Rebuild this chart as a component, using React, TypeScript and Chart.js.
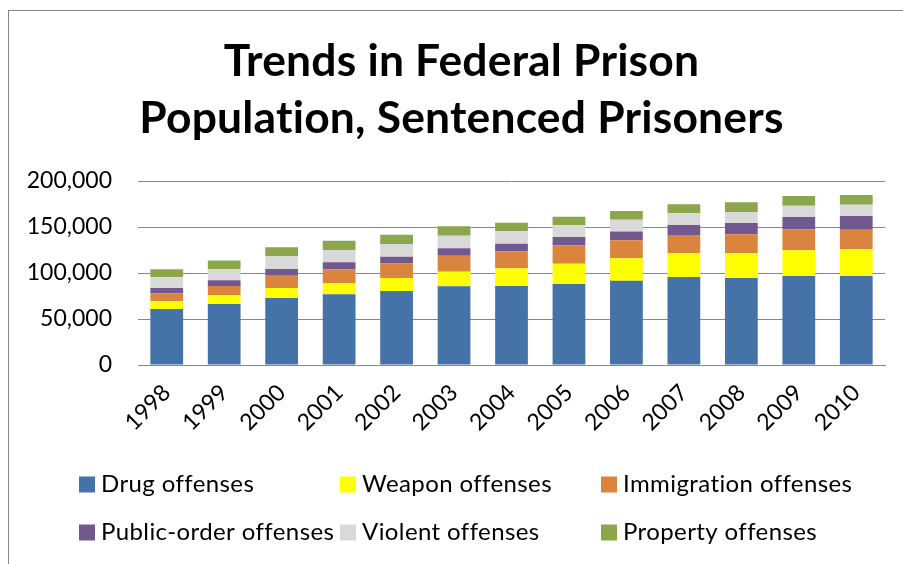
import React, { useEffect, useRef } from 'react';
import { Chart, registerables } from 'chart.js';

Chart.register(...registerables);

const categories = ['1998', '1999', '2000', '2001', '2002', '2003', '2004', '2005', '2006', '2007', '2008', '2009', '2010'];
const drugOffenses = [60900, 66300, 72800, 76800, 80400, 85500, 85900, 88000, 91700, 95700, 94600, 96700, 96700];
const weaponOffenses = [8700, 9400, 10900, 12000, 14100, 15900, 19200, 22100, 24300, 26100, 27200, 27900, 29000];
const immigrationOffenses = [8000, 10200, 13400, 15200, 15900, 17400, 18500, 19900, 19600, 19600, 20300, 22800, 21400];
const publicOrderOffenses = [6200, 6200, 7200, 7600, 7300, 8000, 8300, 9100, 9400, 10900, 12300, 13400, 14900];
const violentOffenses = [11600, 12300, 13800, 13400, 13800, 13800, 13400, 13000, 13000, 12700, 12000, 12300, 12300];
const propertyOffenses = [8700, 9100, 9800, 10100, 10100, 10200, 9400, 9100, 9400, 9800, 10500, 10500, 10500];
const seriesNames = ['Drug offenses', 'Weapon offenses', 'Immigration offenses', 'Public-order offenses', 'Violent offenses', 'Property offenses'];
const seriesColors = ['#4572A7', '#FFFF00', '#DB843D', '#71588F', '#D9D9D9', '#8BA64B'];
const titleLines = ['Trends in Federal Prison', 'Population, Sentenced Prisoners'];
const yTicks = { min: 0, max: 200000, step: 50000 };

const FONT = 'Lato, "Open Sans", sans-serif';

const frameTitleLegend = {
  id: 'frameTitleLegend',
  beforeDraw(chart: any) {
    const ctx = chart.ctx;
    ctx.save();
    ctx.fillStyle = '#ffffff';
    ctx.fillRect(0, 0, chart.width, chart.height);
    ctx.strokeStyle = '#888888';
    ctx.lineWidth = 1;
    ctx.strokeRect(8.5, 10.5, chart.width + 20, chart.height + 20);
    ctx.restore();
  },
  afterDraw(chart: any) {
    const ctx = chart.ctx;
    ctx.save();
    try { (ctx as any).letterSpacing = '0.2px'; } catch (e) {}
    // title
    ctx.fillStyle = '#000000';
    ctx.textAlign = 'center';
    ctx.textBaseline = 'alphabetic';
    ctx.font = `bold 44.4px ${FONT}`;
    titleLines.forEach((line, i) => {
      ctx.fillText(line, 461.5, 76 + i * 57);
    });
    // legend
    try { (ctx as any).letterSpacing = '0.4px'; } catch (e) {}
    ctx.font = `24px ${FONT}`;
    ctx.textAlign = 'left';
    chart.data.datasets.forEach((ds: any, i: number) => {
      const col = i % 3;
      const row = Math.floor(i / 3);
      const bx = 79 + col * 261;
      const base = 492 + row * 48;
      ctx.fillStyle = ds.backgroundColor;
      ctx.fillRect(bx, base - 15.5, 16, 16);
      ctx.fillStyle = '#000000';
      ctx.fillText(ds.label, bx + 22, base);
    });
    ctx.restore();
  },
};

export default function App() {
  const ref = useRef<HTMLCanvasElement>(null);
  useEffect(() => {
    const values = [drugOffenses, weaponOffenses, immigrationOffenses, publicOrderOffenses, violentOffenses, propertyOffenses];
    const chart = new Chart(ref.current!, {
      type: 'bar',
      data: {
        labels: categories,
        datasets: seriesNames.map((name, i) => ({
          label: name,
          data: values[i],
          backgroundColor: seriesColors[i],
          borderWidth: 0,
          categoryPercentage: 1,
          barPercentage: 0.57,
        })),
      },
      options: {
        responsive: false,
        animation: false,
        layout: { padding: { left: 0, right: 18, top: 181, bottom: 0 } },
        plugins: {
          legend: { display: false },
          tooltip: { enabled: false },
          title: { display: false },
        },
        scales: {
          x: {
            stacked: true,
            grid: { display: false },
            border: { display: true, color: '#888888', width: 1 },
            ticks: {
              color: '#000000',
              font: { family: FONT, size: 23 },
              minRotation: 45,
              maxRotation: 45,
              padding: 6,
              autoSkip: false,
            },
            afterFit: (scale: any) => { scale.height = 199; },
          },
          y: {
            stacked: true,
            min: yTicks.min,
            max: yTicks.max,
            grid: { color: '#888888', lineWidth: 1, drawTicks: false },
            border: { display: false },
            ticks: {
              stepSize: yTicks.step,
              color: '#000000',
              font: { family: FONT, size: 23 },
              padding: 26,
              callback: (v: any) => Number(v).toLocaleString('en-US'),
            },
            afterFit: (scale: any) => { scale.width = 138; },
          },
        },
      },
      plugins: [frameTitleLegend],
    });
    return () => chart.destroy();
  }, []);
  return (
    <div style={{ position: 'fixed', left: 0, top: 0, width: 903, height: 564, background: '#fff' }}>
      <canvas ref={ref} width={903} height={564} style={{ width: 903, height: 564, display: 'block' }} />
    </div>
  );
}
